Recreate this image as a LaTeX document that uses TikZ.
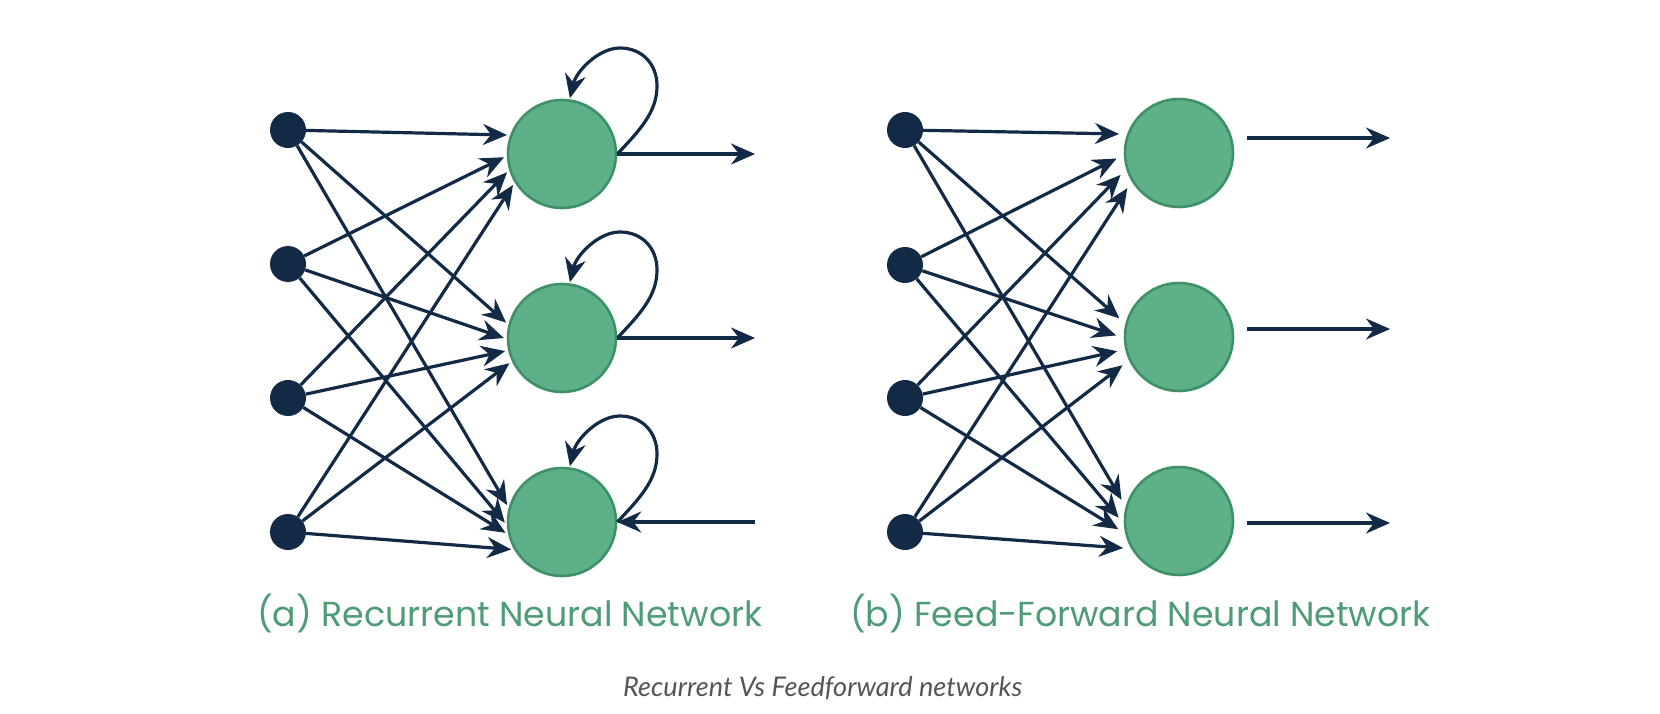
\documentclass[tikz,border=0pt]{standalone}
\usepackage{graphicx}
\usepackage{fontspec}
\setmainfont{Poppins}
\newfontfamily\capfont{Lato}
\usetikzlibrary{arrows.meta,calc}
\definecolor{navy}{HTML}{132A46}
\definecolor{nfill}{HTML}{5EB088}
\definecolor{nline}{HTML}{3E9166}
\definecolor{ltext}{HTML}{4E9C76}
\definecolor{gtext}{HTML}{555555}
\newcommand\selfloop[1]{%
  \draw[conn,shorten >=1pt] (#1.east) .. controls ($(#1)+(78,-24)$) and ($(#1)+(95,-42)$) .. ($(#1)+(95,-68)$)
    .. controls ($(#1)+(95,-90)$) and ($(#1)+(80,-106)$) .. ($(#1)+(58,-106)$)
    .. controls ($(#1)+(36,-106)$) and ($(#1)+(14,-82)$) .. (#1.82);}
\begin{document}
\begin{tikzpicture}[x=1pt,y=-1pt,
  inp/.style={circle,fill=navy,minimum size=36pt,inner sep=0pt},
  neuron/.style={circle,fill=nfill,draw=nline,line width=2.6pt,minimum size=108pt,inner sep=0pt},
  conn/.style={draw=navy,line width=3.2pt,-{Stealth[length=24pt,width=21pt,inset=8pt]}},
  lab/.style={text=ltext,anchor=base west,inner sep=0pt}]
\fill[white] (0,0) rectangle (1660,714);
\useasboundingbox (0,0) rectangle (1660,714);

% left network
\foreach \i/\y in {1/130,2/264,3/398,4/532}{\node[inp] (a\i) at (288,\y) {};}
\node[neuron] (ac1) at (562,154) {};
\node[neuron] (ac2) at (562,338) {};
\node[neuron] (ac3) at (562,522) {};
% right network
\foreach \i/\y in {1/130,2/265,3/398,4/532}{\node[inp] (b\i) at (905,\y) {};}
\node[neuron] (bc1) at (1179,153) {};
\node[neuron] (bc2) at (1179,337) {};
\node[neuron] (bc3) at (1179,521) {};

% connections
\foreach \j/\angs in {1/{160,182,197,211},2/{166,181,193,205},3/{165,183,193,210}}{
  \foreach \ang [count=\i] in \angs {
    \draw[conn,shorten >=3pt] (a\i) -- (ac\j.\ang);
    \draw[conn,shorten >=8pt] (b\i) -- (bc\j.\ang);
  }
}

% recurrent loops
\selfloop{ac1}
\selfloop{ac2}
\selfloop{ac3}

% outputs left
\coordinate (ao1) at (755,154);
\coordinate (ao2) at (755,338);
\coordinate (ai3) at (755,522);
\draw[conn] (ac1.east) -- (ao1);
\draw[conn] (ac2.east) -- (ao2);
\draw[conn] (ai3) -- (ac3.east);

% outputs right
\coordinate (bs1) at (1247,138); \coordinate (bo1) at (1390,138);
\coordinate (bs2) at (1247,329); \coordinate (bo2) at (1390,329);
\coordinate (bs3) at (1247,523); \coordinate (bo3) at (1390,523);
\draw[conn] (bs1) -- (bo1);
\draw[conn] (bs2) -- (bo2);
\draw[conn] (bs3) -- (bo3);

% captions
\node[lab] (capa) at (257,626) {\resizebox{505pt}{!}{(a) Recurrent Neural Network}};
\node[lab] (capb) at (850,626) {\resizebox{580pt}{!}{(b) Feed-Forward Neural Network}};
\node[text=gtext,anchor=base west,inner sep=0pt] (capc) at (623,696) {\capfont\itshape\resizebox{399pt}{!}{Recurrent Vs Feedforward networks}};
\end{tikzpicture}
\end{document}
